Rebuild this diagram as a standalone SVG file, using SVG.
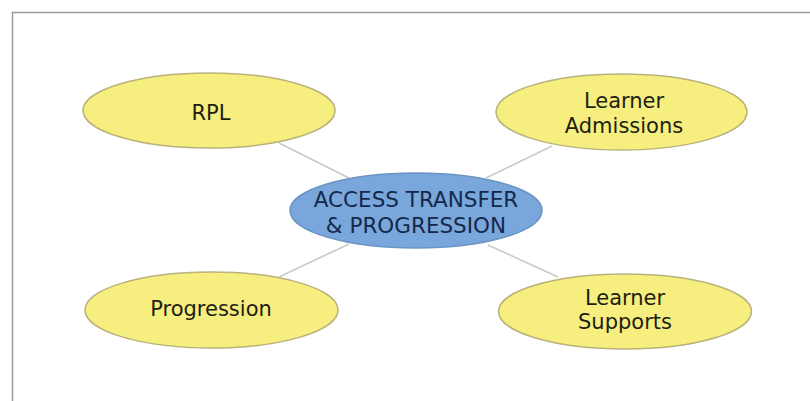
<svg xmlns="http://www.w3.org/2000/svg" width="810" height="401" viewBox="0 0 810 401">
  <style>
    .frame { fill: #ffffff; stroke: #9a9a9a; stroke-width: 1.5; }
    .link { stroke: #c9c9c9; stroke-width: 1.6; fill: none; }
    .leaf { fill: #f6ee7e; stroke: #b9b27a; stroke-width: 1.5; }
    .hub { fill: #79a7db; stroke: #6a94c4; stroke-width: 1.5; }
    text { font-family: "DejaVu Sans", "Liberation Sans", sans-serif; font-size: 21px; text-anchor: middle; }
    .leaf-label { fill: #1e1e14; }
    .hub-label { fill: #15284a; font-size: 21.5px; }
  </style>

  <rect class="frame" x="12.5" y="12.5" width="820" height="420"/>

  <g id="connectors">
    <line class="link" x1="279" y1="143" x2="349" y2="178"/>
    <line class="link" x1="552" y1="146" x2="486" y2="178"/>
    <line class="link" x1="279" y1="277" x2="349" y2="244"/>
    <line class="link" x1="558" y1="277" x2="488" y2="245"/>
  </g>

  <g id="rpl">
    <ellipse class="leaf" cx="209" cy="110.5" rx="126" ry="37.5"/>
    <text class="leaf-label" x="211" y="120">RPL</text>
  </g>

  <g id="learner-admissions">
    <ellipse class="leaf" cx="621.5" cy="112" rx="125.5" ry="38"/>
    <text class="leaf-label" x="624" y="108">Learner</text>
    <text class="leaf-label" x="624" y="133">Admissions</text>
  </g>

  <g id="access-transfer-progression">
    <ellipse class="hub" cx="416" cy="210.5" rx="126" ry="37.5"/>
    <text class="hub-label" x="416" y="207">ACCESS TRANSFER</text>
    <text class="hub-label" x="416" y="233">&amp; PROGRESSION</text>
  </g>

  <g id="progression">
    <ellipse class="leaf" cx="211.5" cy="310" rx="126.5" ry="38"/>
    <text class="leaf-label" x="211" y="316">Progression</text>
  </g>

  <g id="learner-supports">
    <ellipse class="leaf" cx="625" cy="311.5" rx="126.5" ry="37.5"/>
    <text class="leaf-label" x="625" y="305">Learner</text>
    <text class="leaf-label" x="625" y="329">Supports</text>
  </g>
</svg>
